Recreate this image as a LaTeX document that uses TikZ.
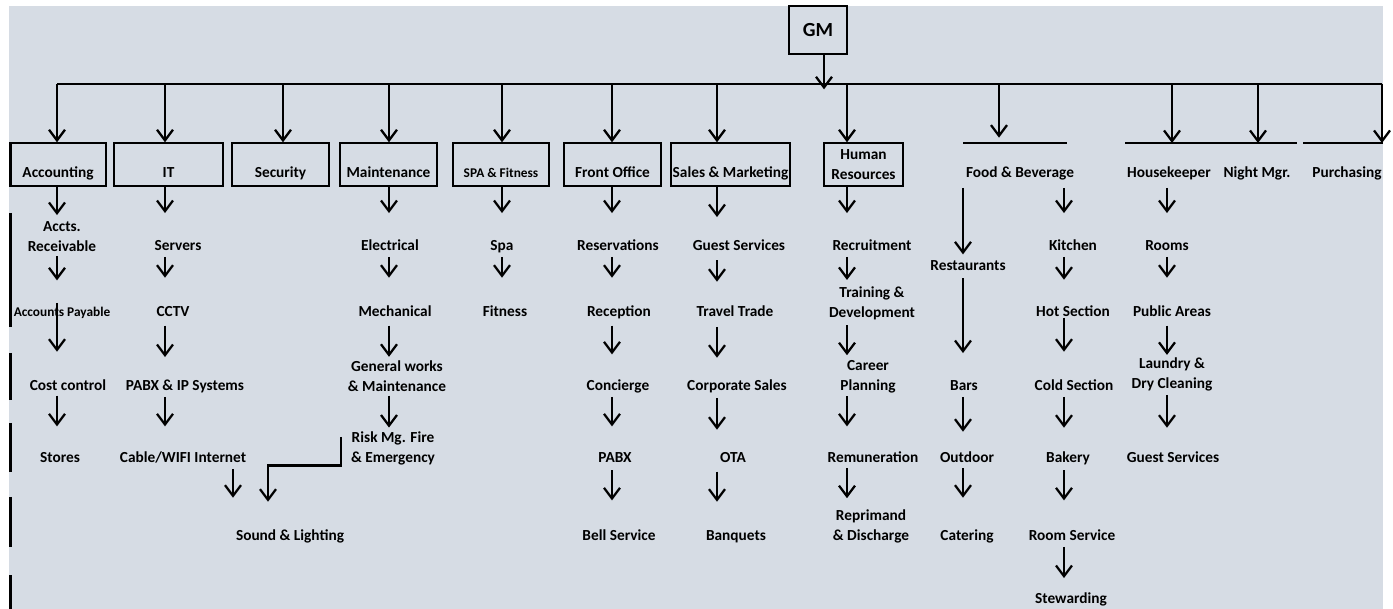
\documentclass[tikz,border=0pt]{standalone}
\usepackage{fontspec}
\setmainfont{Carlito}
\usetikzlibrary{arrows.meta}
\definecolor{bgcol}{RGB}{214,220,228}
\tikzset{
  line/.style={line width=1.1pt},
  arr/.style={line width=1.7pt,-{Straight Barb[length=8pt,width=12pt]},shorten <=2pt,shorten >=20pt},
  dept/.style={draw,line width=1.1pt,inner sep=0pt,minimum height=32.25pt,
    text height=26pt,text depth=6pt,font=\bfseries\fontsize{11.5}{15}\selectfont},
  sub/.style={inner sep=0pt,text height=8pt,text depth=2.5pt,font=\bfseries\fontsize{11.5}{15}\selectfont},
  subtwo/.style={inner sep=0pt,align=center,font=\bfseries\fontsize{11.5}{15}\selectfont},
  smalltxt/.style={font=\bfseries\fontsize{10}{12}\selectfont},
  edgebar/.style={line width=2.3pt}
}
\begin{document}
\begin{tikzpicture}[x=0.75pt,y=-0.75pt]
  \useasboundingbox (0,0) rectangle (1393,609);
  \fill[bgcol] (9,6) rectangle (1383,609);
  % left margin marks
  \foreach \a/\b in {143/187,213/327,353/400,423/472,497/547,575/609}
    \draw[edgebar] (10.5,\a) -- (10.5,\b);

  \coordinate (bus) at (0,84);
  \coordinate (dl) at (0,143);
  \foreach \n/\x in {acc/57,it/165,sec/283,mnt/389,spa/502,fo/612,sm/717,hr/847,
      fbl/963,fbr/1064,fbt/999,hk/1167,hkt/1172,nm/1258,pur/1382,snd/233,elbs/341,elbx/268}
    \coordinate (x\n) at (\x,0);

  % top
  \node[draw,line width=1.1pt,inner sep=0pt,minimum width=43.5pt,minimum height=36pt,
    font=\bfseries\fontsize{15}{18}\selectfont] (gm) at (818,30) {GM};
  \draw[line] (xacc |- bus) -- (xpur |- bus);
  \draw[arr,shorten <=0pt,shorten >=-4pt] ([xshift=4.5pt]gm.south) -- ([xshift=4.5pt]gm.south |- bus);

  % departments
  \node[dept,minimum width=72pt] (acc) at (58,164.5) {Accounting};
  \node[dept,minimum width=81.75pt] (it) at (168.5,164.5) {IT};
  \node[dept,minimum width=72.75pt] (sec) at (280.5,164.5) {Security};
  \node[dept,minimum width=72.75pt] (mnt) at (388.5,164.5) {Maintenance};
  \node[dept,minimum width=72pt,font=\bfseries\fontsize{10}{12}\selectfont] (spa) at (501,164.5) {SPA \& Fitness};
  \node[dept,minimum width=72.75pt] (fo) at (612.5,164.5) {Front Office};
  \node[dept,minimum width=89.25pt] (sm) at (730.5,164.5) {Sales \& Marketing};
  \node[draw,line width=1.1pt,inner sep=0pt,minimum width=59.25pt,minimum height=32.25pt,
    align=center,font=\bfseries\fontsize{11.5}{15}\selectfont] (hr) at (863.5,164.5) {Human\\Resources};
  \node[sub] (fb) at (1020,174) {Food \& Beverage};
  \node[sub] (hk) at (1169,174) {Housekeeper};
  \node[sub] (nm) at (1257,174) {Night Mgr.};
  \node[sub] (pur) at (1347,174) {Purchasing};
  \draw[line] (963,143) -- (1067,143);
  \draw[line] (1125,143) -- (1297,143);
  \draw[line] (1303,143) -- (1383,143);

  \foreach \n in {acc,it,sec,mnt,spa,fo,sm,hr}
    \draw[arr,shorten <=0pt,shorten >=0pt] (x\n |- bus) -- (x\n |- \n.north);
  \draw[arr,shorten <=0pt,shorten >=4pt] (xfbt |- bus) -- (xfbt |- dl);
  \foreach \n in {hkt,nm,pur}
    \draw[arr,shorten <=0pt,shorten >=0pt] (x\n |- bus) -- (x\n |- dl);

  % Accounting
  \node[subtwo] (ar) at (62,237) {Accts.\\Receivable};
  \node[smalltxt,inner sep=0pt] (ap) at (62,313) {Accounts Payable};
  \node[sub] (cc) at (68,387) {Cost control};
  \node[sub] (sto) at (60,459) {Stores};
  \draw[arr,shorten <=0pt,shorten >=5pt] (acc.south -| xacc) -- (ar.north -| xacc);
  \draw[arr,shorten <=3pt] (ar.south -| xacc) -- (ap.north -| xacc);
  \draw[arr,shorten <=-12pt,shorten >=21pt] (ap.south -| xacc) -- (cc.north -| xacc);
  \draw[arr,shorten <=1pt,shorten >=19pt] (cc.south -| xacc) -- (sto.north -| xacc);

  % IT
  \node[sub] (srv) at (178,247) {Servers};
  \node[sub] (cctv) at (173,313) {CCTV};
  \node[sub] (pabxip) at (185,387) {PABX \& IP Systems};
  \node[sub] (cable) at (183,459) {Cable/WIFI Internet};
  \node[sub] (snd) at (290,537) {Sound \& Lighting};
  \draw[arr,shorten <=0pt] (it.south -| xit) -- (srv.north -| xit);
  \draw[arr,shorten >=21pt] (srv.south -| xit) -- (cctv.north -| xit);
  \draw[arr,shorten <=4pt,shorten >=17pt] (cctv.south -| xit) -- (pabxip.north -| xit);
  \draw[arr,shorten >=19pt] (pabxip.south -| xit) -- (cable.north -| xit);
  \draw[arr,shorten >=24pt] (cable.south -| xsnd) -- (snd.north -| xsnd);

  % Maintenance
  \node[sub] (ele) at (390,247) {Electrical};
  \node[sub] (mech) at (395,313) {Mechanical};
  \node[subtwo] (gen) at (397,376.5) {General works\\\& Maintenance};
  \node[subtwo] (risk) at (393,448.5) {Risk Mg. Fire\\\& Emergency};
  \draw[arr,shorten <=0pt] (mnt.south -| xmnt) -- (ele.north -| xmnt);
  \draw[arr,shorten >=21pt] (ele.south -| xmnt) -- (mech.north -| xmnt);
  \draw[arr,shorten <=4pt,shorten >=3pt] (mech.south -| xmnt) -- (gen.north -| xmnt);
  \draw[arr,shorten <=2.5pt,shorten >=3pt] (gen.south -| xmnt) -- (risk.north -| xmnt);
  \draw[arr,shorten <=4pt,shorten >=21pt] (risk.north -| xelbs) -- (risk.south -| xelbs) -| (snd.north -| xelbx);

  % SPA
  \node[sub] (spa1) at (502,247) {Spa};
  \node[sub] (fit) at (505,313) {Fitness};
  \draw[arr,shorten <=0pt] (spa.south -| xspa) -- (spa1.north -| xspa);
  \draw[arr,shorten >=21pt] (spa1.south -| xspa) -- (fit.north -| xspa);

  % Front Office
  \node[sub] (res) at (618,247) {Reservations};
  \node[sub] (rcp) at (619,313) {Reception};
  \node[sub] (con) at (618,387) {Concierge};
  \node[sub] (pabx) at (615,459) {PABX};
  \node[sub] (bell) at (619,537) {Bell Service};
  \draw[arr,shorten <=0pt] (fo.south -| xfo) -- (res.north -| xfo);
  \draw[arr,shorten >=21pt] (res.south -| xfo) -- (rcp.north -| xfo);
  \draw[arr,shorten <=4pt,shorten >=19pt] (rcp.south -| xfo) -- (con.north -| xfo);
  \draw[arr,shorten >=19pt] (con.south -| xfo) -- (pabx.north -| xfo);
  \draw[arr,shorten <=3pt,shorten >=22pt] (pabx.south -| xfo) -- (bell.north -| xfo);

  % Sales & Marketing
  \node[sub] (gs) at (739,247) {Guest Services};
  \node[sub] (tt) at (735,313) {Travel Trade};
  \node[sub] (cs) at (737,387) {Corporate Sales};
  \node[sub] (ota) at (733,459) {OTA};
  \node[sub] (banq) at (736,537) {Banquets};
  \draw[arr,shorten <=0pt,shorten >=17pt] (sm.south -| xsm) -- (gs.north -| xsm);
  \draw[arr,shorten <=4.5pt,shorten >=18pt] (gs.south -| xsm) -- (tt.north -| xsm);
  \draw[arr,shorten <=5pt,shorten >=16.5pt] (tt.south -| xsm) -- (cs.north -| xsm);
  \draw[arr,shorten <=3pt,shorten >=16.5pt] (cs.south -| xsm) -- (ota.north -| xsm);
  \draw[arr,shorten <=4pt,shorten >=21pt] (ota.south -| xsm) -- (banq.north -| xsm);

  % Human Resources
  \node[sub] (recr) at (872,247) {Recruitment};
  \node[subtwo] (trn) at (872,303.5) {Training \&\\Development};
  \node[subtwo] (car) at (868,376.5) {Career\\Planning};
  \node[sub] (rem) at (873,459) {Remuneration};
  \node[subtwo] (rep) at (871,526.5) {Reprimand\\\& Discharge};
  \draw[arr,shorten <=0pt] (hr.south -| xhr) -- (recr.north -| xhr);
  \draw[arr,shorten >=5pt] (recr.south -| xhr) -- (trn.north -| xhr);
  \draw[arr,shorten <=3.5pt,shorten >=3.5pt] (trn.south -| xhr) -- (car.north -| xhr);
  \draw[arr,shorten <=2.5pt,shorten >=19pt] (car.south -| xhr) -- (rem.north -| xhr);
  \draw[arr,shorten <=1.5pt,shorten >=8.5pt] (rem.south -| xhr) -- (rep.north -| xhr);

  % Food & Beverage
  \node[sub] (rest) at (968,267) {Restaurants};
  \node[sub] (bars) at (964,387) {Bars};
  \node[sub] (outd) at (967,459) {Outdoor};
  \node[sub] (cat) at (967,537) {Catering};
  \draw[arr,shorten <=5pt,shorten >=4pt] (fb.south -| xfbl) -- (rest.north -| xfbl);
  \draw[arr,shorten <=3pt] (rest.south -| xfbl) -- (bars.north -| xfbl);
  \draw[arr,shorten >=15pt] (bars.south -| xfbl) -- (outd.north -| xfbl);
  \draw[arr,shorten <=1.5pt,shorten >=24pt] (outd.south -| xfbl) -- (cat.north -| xfbl);
  \node[sub] (kit) at (1073,247) {Kitchen};
  \node[sub] (hot) at (1073,313) {Hot Section};
  \node[sub] (cold) at (1074,387) {Cold Section};
  \node[sub] (bak) at (1068,459) {Bakery};
  \node[sub] (rs) at (1072,537) {Room Service};
  \node[sub] (stew) at (1071,600) {Stewarding};
  \draw[arr,shorten <=5pt] (fb.south -| xfbr) -- (kit.north -| xfbr);
  \draw[arr,shorten >=19.5pt] (kit.south -| xfbr) -- (hot.north -| xfbr);
  \draw[arr,shorten <=-2pt,shorten >=21pt] (hot.south -| xfbr) -- (cold.north -| xfbr);
  \draw[arr,shorten >=18pt] (cold.south -| xfbr) -- (bak.north -| xfbr);
  \draw[arr,shorten <=3pt,shorten >=22pt] (bak.south -| xfbr) -- (rs.north -| xfbr);
  \draw[arr,shorten >=11pt] (rs.south -| xfbr) -- (stew.north -| xfbr);

  % Housekeeper
  \node[sub] (rooms) at (1167,247) {Rooms};
  \node[sub] (pub) at (1172,313) {Public Areas};
  \node[subtwo] (laun) at (1172,374.5) {Laundry \&\\Dry Cleaning};
  \node[sub] (gs2) at (1173,459) {Guest Services};
  \draw[arr,shorten <=5pt] (hk.south -| xhk) -- (rooms.north -| xhk);
  \draw[arr,shorten >=21pt] (rooms.south -| xhk) -- (pub.north -| xhk);
  \draw[arr,shorten <=4pt,shorten >=2pt] (pub.south -| xhk) -- (laun.north -| xhk);
  \draw[arr,shorten <=2.5pt,shorten >=18pt] (laun.south -| xhk) -- (gs2.north -| xhk);
\end{tikzpicture}
\end{document}
